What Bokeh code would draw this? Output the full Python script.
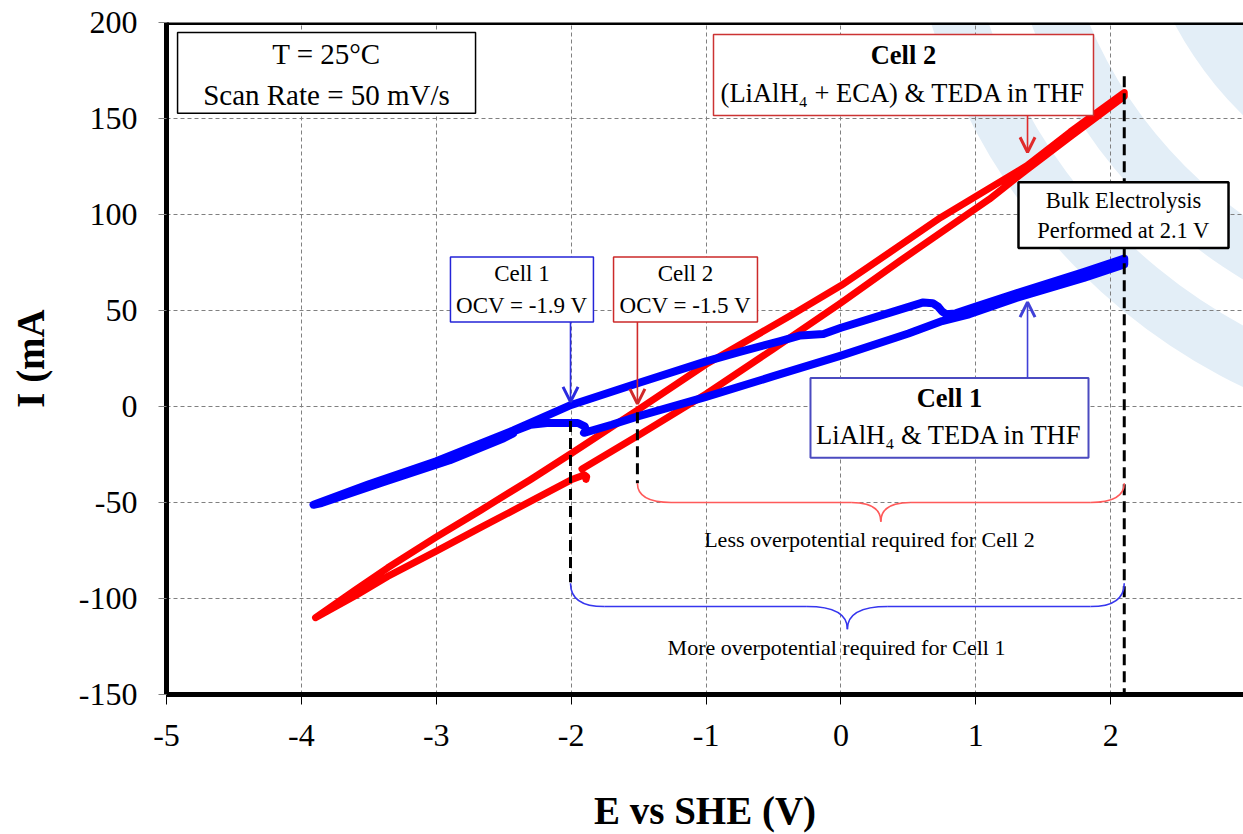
from bokeh.plotting import figure
from bokeh.models import Range1d, FixedTicker, Label, BoxAnnotation, Arrow, OpenHead, Span
from bokeh.embed import file_html
from bokeh.resources import INLINE

FONT = "Liberation Serif"

# ---------------- data ----------------
x_ticks = [-5, -4, -3, -2, -1, 0, 1, 2, 3]
y_ticks = [-150, -100, -50, 0, 50, 100, 150, 200]

# Cell 1 : LiAlH4 & TEDA in THF (blue)
cell1_E = [-2.43, -2.30, -2.18, -1.95, -1.90, -1.89, -1.905,
           -1.70, -1.50, -1.00, -0.50, 0.00, 0.50, 0.75, 0.95, 1.30, 1.80, 2.10,
           2.10, 1.80, 1.30, 1.00, 0.85, 0.78, 0.75, 0.72, 0.68, 0.61, 0.37,
           0.00, -0.13, -0.30, -0.45, -0.75, -1.00, -1.49, -2.00,
           -2.43, -3.00, -3.50, -3.91,
           -3.85, -3.40, -2.90, -2.50, -2.43]
cell1_I = [-13.0, -9.5, -8.6, -8.6, -10.3, -12.5, -13.7,
           -9.5, -5.0, 5.0, 15.8, 26.5, 38.0, 44.5, 48.0, 56.5, 67.0, 74.0,
           77.0, 70.0, 59.0, 52.0, 48.5, 48.0, 49.5, 52.0, 53.8, 54.2, 49.0,
           41.0, 37.8, 37.0, 34.0, 28.5, 23.5, 12.5, 0.8,
           -12.5, -28.5, -40.5, -51.2,
           -50.3, -39.5, -28.0, -16.5, -14.0]

# Cell 2 : (LiAlH4 + ECA) & TEDA in THF (red)
cell2_E = [-1.92, -1.50, -1.00, -0.50, 0.00, 0.44, 0.74, 1.10, 1.38, 1.70, 2.10,
           2.10, 1.70, 1.38, 0.74, 0.44, 0.00, -0.37, -1.00, -1.50, -2.00, -2.30,
           -2.67, -3.00, -3.36, -3.60, -3.895,
           -3.60, -3.36, -3.00, -2.67, -2.38, -2.00, -1.93, -1.905, -1.885, -1.89]
cell2_I = [-32.5, -15.0, 6.5, 30.0, 54.0, 76.0, 90.5, 108.0, 123.5, 140.5, 161.5,
           163.5, 143.0, 125.5, 98.5, 84.0, 63.0, 47.5, 22.0, -1.5, -24.5, -38.0,
           -54.0, -68.0, -84.0, -95.5, -110.0,
           -98.5, -88.5, -75.3, -63.0, -52.3, -38.2, -36.3, -35.5, -36.5, -38.0]

# ---------------- figure ----------------
p = figure(width=1243, height=834, output_backend="svg", toolbar_location=None,
           x_range=Range1d(-5, 2.984), y_range=Range1d(-150, 200),
           min_border_left=166, min_border_right=0, min_border_top=22,
           min_border_bottom=139, background_fill_color="white",
           border_fill_color="white")
p.outline_line_color = None

# faint watermark arcs in the background (centre outside the frame, top right)
wm_x = [4.889, 4.889, 4.889]
wm_y = [289.4, 289.4, 289.4]
wm_inner = [540, 446, 300]
wm_outer = [595, 500, 369]
p.annulus(x=wm_x, y=wm_y, inner_radius=wm_inner, outer_radius=wm_outer,
          inner_radius_units="screen", outer_radius_units="screen",
          fill_color="#e3eef7", line_color=None, level="image")

# axes
for ax in p.xaxis:
    ax.ticker = FixedTicker(ticks=x_ticks)
    ax.major_label_overrides = {t: str(t) for t in x_ticks}
    ax.axis_label = "E vs SHE (V)"
    ax.axis_line_width = 5
    ax.axis_line_color = "black"
    ax.major_tick_line_color = "black"
    ax.major_tick_out = 10
    ax.major_tick_in = 0
    ax.minor_tick_line_color = None
    ax.major_label_standoff = 20
    ax.axis_label_standoff = 40
for ax in p.yaxis:
    ax.ticker = FixedTicker(ticks=y_ticks)
    ax.major_label_overrides = {t: str(t) for t in y_ticks}
    ax.axis_label = "I (mA"
    ax.axis_line_width = 5
    ax.axis_line_color = "black"
    ax.major_tick_line_color = "#808080"
    ax.major_tick_out = 8
    ax.major_tick_in = 0
    ax.minor_tick_line_color = None
    ax.major_label_standoff = 21
    ax.axis_label_standoff = 24
for ax in p.xaxis + p.yaxis:
    ax.major_label_text_font = FONT
    ax.major_label_text_font_size = "32px"
    ax.major_label_text_color = "black"
    ax.axis_label_text_font = FONT
    ax.axis_label_text_font_size = "39px"
    ax.axis_label_text_font_style = "bold"
    ax.axis_label_text_color = "black"

for g in (p.xgrid, p.ygrid):
    g.grid_line_color = "#808080"
    g.grid_line_dash = "4 3"
    g.grid_line_width = 1

p.add_layout(Span(location=200, dimension="width", line_color="black", line_width=5))

# curves
p.line(cell2_E, cell2_I, line_color="#ff0000", line_width=7, line_join="round", line_cap="round")
p.line(cell1_E, cell1_I, line_color="#0000ff", line_width=8, line_join="round", line_cap="round")

# black dashed markers (OCVs and 2.1 V)
p.segment(x0=[-2.005, -1.509, 2.10], y0=[-7.5, -3.0, 172.0],
          x1=[-2.005, -1.509, 2.10], y1=[-91.5, -40.0, -150.0],
          line_color="black", line_width=3, line_dash="11 6")

# braces
def brace(xl, xr, ytop, ymid, ytip, rend, rtip, color):
    xc = (xl + xr) / 2
    p.quadratic(x0=[xl, xr, xc - rtip, xc + rtip], y0=[ytop, ytop, ymid, ymid],
                x1=[xl + rend, xr - rend, xc, xc], y1=[ymid, ymid, ytip, ytip],
                cx=[xl, xr, xc, xc], cy=[ymid, ymid, ymid, ymid],
                line_color=color, line_width=1.6)
    p.segment(x0=[xl + rend, xc + rtip], y0=[ymid, ymid],
              x1=[xc - rtip, xr - rend], y1=[ymid, ymid],
              line_color=color, line_width=1.6)

brace(-1.509, 2.10, -40.0, -50.0, -60.0, 0.25, 0.22, "#ff5a5a")
brace(-2.005, 2.10, -92.0, -104.2, -116.0, 0.25, 0.30, "#3636ee")

# boxes
def box(l, r, t, b, color, w):
    p.add_layout(BoxAnnotation(left=l, right=r, top=t, bottom=b, fill_color="white",
                               fill_alpha=1.0, line_color=color, line_width=w, line_alpha=1.0))

def txt(x, y, s, size, bold=False):
    p.add_layout(Label(x=x, y=y, text=s, text_font=FONT, text_font_size=size,
                       text_align="center", text_baseline="middle", text_color="black",
                       text_font_style="bold" if bold else "normal"))

box(-4.918, -2.709, 194.8, 152.7, "black", 1.5)
txt(-3.814, 183.8, "T = 25°C", "29px")
txt(-3.814, 162.0, "Scan Rate = 50 mV/s", "29px")

box(-0.945, 1.872, 193.8, 151.6, "#cc3333", 1.5)
txt(0.463, 183.3, "Cell 2", "26.5px", True)
txt(0.463, 163.5, "(LiAlH₄ + ECA) & TEDA in THF", "26.5px")

box(1.316, 2.873, 116.8, 82.5, "black", 2.5)
txt(2.094, 107.4, "Bulk Electrolysis", "22.5px")
txt(2.094, 91.8, "Performed at 2.1 V", "22.5px")

box(-2.895, -1.835, 77.8, 44.0, "#2424d8", 1.5)
txt(-2.365, 69.3, "Cell 1", "23px")
txt(-2.365, 52.8, "OCV = -1.9 V", "23px")

box(-1.686, -0.619, 77.8, 44.0, "#cc2a2a", 1.5)
txt(-1.153, 69.3, "Cell 2", "23px")
txt(-1.153, 52.8, "OCV = -1.5 V", "23px")

box(-0.226, 1.835, 14.9, -26.7, "#4b4bc0", 2)
txt(0.804, 4.4, "Cell 1", "26.5px", True)
txt(0.804, -14.8, "LiAlH₄ & TEDA in THF", "26.5px")

txt(0.211, -69.4, "Less overpotential required for Cell 2", "22px")
txt(-0.033, -125.5, "More overpotential required for Cell 1", "22px")

# arrows
def arrow(x, y0, y1, color):
    p.add_layout(Arrow(x_start=x, y_start=y0, x_end=x, y_end=y1,
                       line_color=color, line_width=1.6,
                       end=OpenHead(size=15, line_color=color, line_width=3)))

arrow(-2.005, 44.0, 2.4, "#2a2ae0")
arrow(-1.509, 44.0, 1.4, "#d02a2a")
arrow(1.383, 151.6, 132.4, "#e02a2a")
arrow(1.383, 14.9, 54.4, "#4040d8")

open("out.html", "w").write(file_html(p, INLINE))
